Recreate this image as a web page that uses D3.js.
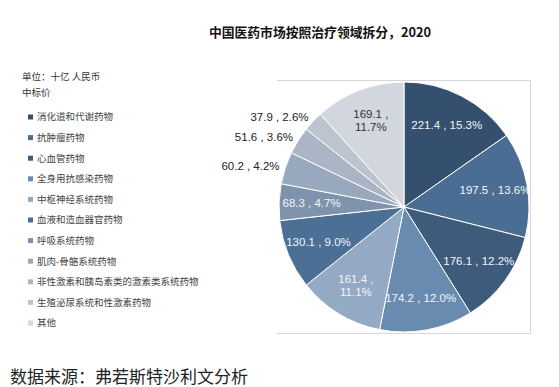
<!DOCTYPE html>
<html>
<head>
<meta charset="utf-8">
<script src="https://cdn.jsdelivr.net/npm/d3@7"></script>
<style>
  body { margin: 0; background: #fff; }
  svg { display: block; }
</style>
</head>
<body>
<div id="chart"></div>
<script>
const categories = [
  "消化道和代谢药物",
  "抗肿瘤药物",
  "心血管药物",
  "全身用抗感染药物",
  "中枢神经系统药物",
  "血液和造血器官药物",
  "呼吸系统药物",
  "肌肉-骨骼系统药物",
  "非性激素和胰岛素类的激素类系统药物",
  "生殖泌尿系统和性激素药物",
  "其他",
];
const values = [221.4, 197.5, 176.1, 174.2, 161.4, 130.1, 68.3, 60.2, 51.6, 37.9, 169.1];
const percents = ["15.3%", "13.6%", "12.2%", "12.0%", "11.1%", "9.0%", "4.7%", "4.2%", "3.6%", "2.6%", "11.7%"];
const colors = [
  "#35506e", "#4a6d93", "#3f5b7c", "#6a8bb0", "#93a9c4", "#4c6f96",
  "#7f93ad", "#98a8bd", "#aab6c6", "#bcc4d0", "#d2d7df",
];
// labels that sit outside the pie, and those Excel wrapped onto two lines
const outsideLabels = ["肌肉-骨骼系统药物", "非性激素和胰岛素类的激素类系统药物", "生殖泌尿系统和性激素药物"];
const wrappedLabels = ["中枢神经系统药物", "其他"];

const W = 559, H = 387;
const cx = 404, cy = 207, R = 125;

const svg = d3
  .select("#chart")
  .append("svg")
  .attr("width", W)
  .attr("height", H);

// title
svg
  .append("text")
  .attr("x", 320)
  .attr("y", 37)
  .attr("text-anchor", "middle")
  .attr("font-family", "'Noto Sans CJK SC', sans-serif")
  .attr("font-weight", "bold")
  .attr("font-size", 12.8)
  .attr("fill", "#111")
  .text("中国医药市场按照治疗领域拆分，2020");

// unit note
const note = svg
  .append("g")
  .attr("font-family", "'Noto Sans CJK SC', sans-serif")
  .attr("font-size", 9.5)
  .attr("fill", "#333");
note.append("text").attr("x", 22).attr("y", 80).text("单位：十亿 人民币");
note.append("text").attr("x", 22).attr("y", 96).text("中标价");

// legend
const legendY = d3
  .scalePoint()
  .domain(categories)
  .range([117, 323]);

const legend = svg
  .append("g")
  .attr("class", "legend")
  .attr("font-family", "'Noto Sans CJK SC', sans-serif")
  .attr("font-size", 9.5)
  .attr("fill", "#444")
  .selectAll("g")
  .data(categories)
  .join("g")
  .attr("transform", (d) => `translate(28,${legendY(d)})`);

legend
  .append("rect")
  .attr("x", 0)
  .attr("y", -2.5)
  .attr("width", 5)
  .attr("height", 5)
  .attr("fill", (d, i) => colors[i]);

legend
  .append("text")
  .attr("x", 9)
  .attr("dy", "0.35em")
  .text((d) => d);

// plot area frame (no left edge)
svg
  .append("path")
  .attr("d", `M277,80.5H530.5V333.5H277`)
  .attr("fill", "none")
  .attr("stroke", "#d6d6d6")
  .attr("stroke-width", 1);

// pie
const data = categories.map((name, i) => ({ name, value: values[i], pct: percents[i], i }));
const pie = d3.pie().sort(null).value((d) => d.value);
const arcs = pie(data);
const arc = d3.arc().innerRadius(0).outerRadius(R);

const pieG = svg.append("g").attr("transform", `translate(${cx},${cy})`);

pieG
  .selectAll("path")
  .data(arcs)
  .join("path")
  .attr("d", arc)
  .attr("fill", (d) => colors[d.data.i])
  .attr("stroke", "#fff")
  .attr("stroke-width", 1);

const labelArc = d3.arc().innerRadius(R * 0.74).outerRadius(R * 0.74);
const outArc = d3.arc().innerRadius(R + 6).outerRadius(R + 6);

const labels = pieG
  .append("g")
  .attr("font-family", "'Liberation Sans', Arial, sans-serif")
  .attr("font-size", 11.5)
  .selectAll("text")
  .data(arcs)
  .join("text")
  .each(function (d) {
    const outside = outsideLabels.includes(d.data.name);
    const [x, y] = (outside ? outArc : labelArc).centroid(d);
    const t = d3
      .select(this)
      .attr("x", x)
      .attr("y", y)
      .attr("text-anchor", outside ? "end" : "middle")
      .attr("fill", outside ? "#222" : d.data.i === 10 ? "#333" : "#f2f5f8");
    if (wrappedLabels.includes(d.data.name)) {
      t.append("tspan").attr("x", x).attr("dy", "-0.25em").text(`${d.data.value} ,`);
      t.append("tspan").attr("x", x).attr("dy", "1.15em").text(d.data.pct);
    } else {
      t.attr("dy", "0.35em").text(`${d.data.value} , ${d.data.pct}`);
    }
  });

// source
svg
  .append("text")
  .attr("x", 10)
  .attr("y", 383)
  .attr("font-family", "'Noto Sans CJK SC', sans-serif")
  .attr("font-size", 17)
  .attr("fill", "#222")
  .text("数据来源：弗若斯特沙利文分析");
</script>
</body>
</html>
